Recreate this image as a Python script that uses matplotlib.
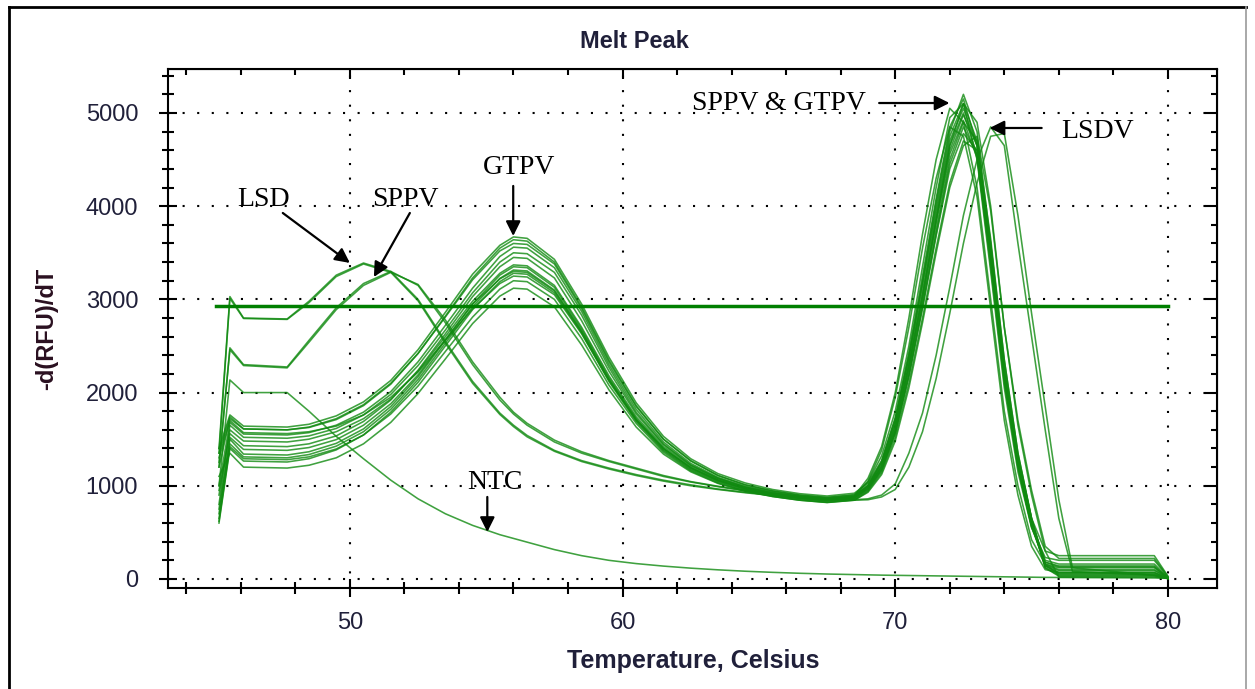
import matplotlib
matplotlib.use('Agg')
import matplotlib.pyplot as plt
from matplotlib.ticker import MultipleLocator
from matplotlib.lines import Line2D

plt.rcParams['font.family'] = ['Liberation Sans', 'DejaVu Sans']

# temperature steps (Celsius)
temps = [45.2, 45.6, 46.1, 47.7, 48.5, 49.5, 50.5, 51.5, 52.5, 53.5, 54.5, 55.5, 56.0, 56.5,
         57.5, 58.5, 59.5, 60.5, 61.5, 62.5, 63.5, 64.5, 65.5, 66.5, 67.5, 68.5,
         69.0, 69.5, 70.0, 70.5, 71.0, 71.5, 72.0, 72.5, 73.0, 73.5, 74.0, 74.5, 75.0, 75.5, 76.0, 76.5, 79.5, 80.0]

# -d(RFU)/dT, GTPV samples
gtpv_1 = [1400, 1760, 1640, 1630, 1660, 1750, 1900, 2130, 2460, 2860, 3270, 3580, 3670, 3655,
          3430, 2950, 2380, 1890, 1530, 1290, 1130, 1030, 960, 915, 890, 920,
          1030, 1270, 1720, 2400, 3200, 4050, 4800, 5200, 4800, 3600, 2250, 1300, 650, 300, 250, 250, 250, 30]
gtpv_2 = [1200, 1720, 1610, 1600, 1625, 1710, 1860, 2090, 2420, 2820, 3230, 3550, 3640, 3625,
          3400, 2920, 2350, 1860, 1500, 1270, 1110, 1010, 945, 900, 875, 905,
          1040, 1320, 1800, 2500, 3350, 4200, 4950, 5100, 4500, 3300, 2050, 1150, 550, 230, 200, 200, 200, 20]
gtpv_3 = [1000, 1680, 1555, 1545, 1570, 1650, 1790, 2010, 2330, 2720, 3120, 3460, 3560, 3550,
          3340, 2870, 2300, 1820, 1470, 1240, 1090, 995, 935, 890, 865, 890,
          1010, 1250, 1700, 2380, 3180, 4000, 4750, 5100, 4700, 3500, 2200, 1250, 600, 200, 160, 160, 160, 15]
gtpv_4 = [800, 1650, 1520, 1510, 1535, 1615, 1760, 1980, 2290, 2670, 3070, 3400, 3500, 3490,
          3290, 2830, 2270, 1790, 1450, 1225, 1080, 985, 925, 880, 855, 880,
          1000, 1240, 1680, 2350, 3150, 3950, 4700, 5050, 4650, 3450, 2150, 1220, 580, 180, 130, 130, 130, 10]
gtpv_5 = [900, 1600, 1480, 1470, 1500, 1580, 1720, 1930, 2230, 2600, 2980, 3280, 3370, 3360,
          3150, 2700, 2180, 1740, 1420, 1210, 1070, 980, 920, 880, 855, 880,
          990, 1220, 1650, 2300, 3050, 3850, 4600, 4980, 4650, 3500, 2200, 1260, 600, 150, 90, 90, 90, 10]
gtpv_6 = [700, 1500, 1340, 1330, 1365, 1455, 1610, 1850, 2170, 2560, 2950, 3260, 3350, 3340,
          3130, 2680, 2160, 1720, 1400, 1195, 1060, 970, 910, 870, 845, 870,
          970, 1180, 1580, 2200, 2950, 3750, 4500, 4900, 4700, 3650, 2350, 1350, 650, 150, 60, 60, 60, 10]
gtpv_7 = [650, 1450, 1310, 1300, 1335, 1425, 1580, 1820, 2140, 2530, 2920, 3225, 3315, 3305,
          3100, 2660, 2140, 1700, 1385, 1180, 1050, 960, 900, 860, 835, 860,
          960, 1170, 1570, 2180, 2920, 3700, 4450, 4850, 4550, 3450, 2200, 1250, 600, 120, 40, 40, 40, 5]
gtpv_8 = [600, 1400, 1265, 1255, 1290, 1385, 1545, 1790, 2110, 2500, 2890, 3190, 3280, 3270,
          3070, 2640, 2120, 1690, 1375, 1170, 1040, 950, 890, 850, 825, 850,
          950, 1160, 1560, 2170, 2900, 3680, 4400, 4780, 4600, 3550, 2300, 1320, 640, 120, 30, 30, 30, 5]
gtpv_9 = [1100, 1350, 1200, 1190, 1220, 1300, 1450, 1680, 1990, 2360, 2740, 3035, 3120, 3110,
          2920, 2510, 2030, 1630, 1340, 1150, 1025, 940, 885, 845, 820, 845,
          940, 1140, 1520, 2100, 2800, 3550, 4250, 4700, 4600, 3600, 2350, 1350, 650, 140, 50, 50, 50, 5]
gtpv_10 = [1300, 1700, 1570, 1560, 1580, 1640, 1760, 1950, 2220, 2560, 2900, 3170, 3250, 3240,
           3050, 2630, 2130, 1710, 1400, 1195, 1060, 970, 910, 870, 845, 870,
           980, 1210, 1640, 2300, 3080, 3900, 4650, 5000, 4550, 3350, 2100, 1200, 560, 160, 100, 100, 100, 10]
gtpv_11 = [950, 1560, 1430, 1420, 1450, 1535, 1690, 1920, 2240, 2630, 3030, 3350, 3450, 3440,
           3230, 2770, 2230, 1770, 1440, 1220, 1080, 985, 925, 885, 860, 890,
           1080, 1420, 2000, 2800, 3700, 4500, 5050, 4900, 4200, 3000, 1800, 1000, 420, 160, 120, 120, 120, 10]
gtpv_12 = [750, 1520, 1390, 1380, 1410, 1495, 1650, 1880, 2190, 2570, 2950, 3220, 3300, 3290,
           3090, 2650, 2140, 1710, 1400, 1190, 1055, 965, 905, 865, 840, 875,
           1050, 1380, 1950, 2700, 3550, 4300, 4850, 4750, 4100, 2900, 1700, 900, 350, 100, 70, 70, 70, 5]
gtpv_13 = [1350, 1740, 1610, 1600, 1630, 1720, 1870, 2100, 2420, 2810, 3210, 3520, 3600, 3590,
           3380, 2900, 2330, 1850, 1500, 1265, 1110, 1010, 945, 900, 875, 900,
           990, 1200, 1600, 2250, 3000, 3850, 4650, 5100, 4900, 4000, 2700, 1700, 950, 350, 220, 220, 220, 25]
gtpv_14 = [620, 1420, 1290, 1280, 1310, 1395, 1545, 1770, 2070, 2440, 2810, 3110, 3200, 3190,
           3000, 2580, 2080, 1670, 1360, 1160, 1030, 945, 885, 845, 822, 845,
           930, 1120, 1480, 2050, 2750, 3500, 4200, 4650, 4750, 3950, 2700, 1650, 900, 300, 20, 20, 20, 5]

# SPPV samples
sppv_1 = [1200, 2480, 2300, 2275, 2560, 2910, 3170, 3300, 3150, 2750, 2300, 1920, 1770, 1650,
          1470, 1350, 1260, 1180, 1100, 1040, 990, 945, 910, 880, 860, 870,
          970, 1190, 1610, 2260, 3020, 3820, 4560, 4920, 4520, 3420, 2160, 1240, 590, 140, 70, 70, 70, 5]
sppv_2 = [1250, 2460, 2290, 2265, 2540, 2890, 3150, 3290, 3160, 2780, 2330, 1950, 1790, 1670,
          1490, 1365, 1270, 1190, 1110, 1045, 995, 950, 912, 882, 862, 880,
          1000, 1260, 1730, 2430, 3250, 4080, 4850, 5150, 4650, 3450, 2150, 1200, 560, 180, 140, 140, 140, 10]

# LSD samples
lsd_1 = [1400, 3030, 2800, 2790, 2980, 3260, 3390, 3300, 3000, 2550, 2120, 1780, 1650, 1540,
         1380, 1270, 1190, 1120, 1060, 1010, 965, 930, 900, 875, 855, 850,
         860, 900, 1020, 1350, 1780, 2400, 3130, 3900, 4500, 4850, 4650, 3600, 2600, 1600, 650, 80, 40, 5]
lsd_2 = [1350, 3010, 2795, 2785, 2965, 3245, 3380, 3290, 2985, 2530, 2100, 1765, 1635, 1525,
         1370, 1260, 1180, 1110, 1050, 1000, 960, 925, 895, 870, 850, 845,
         850, 880, 960, 1200, 1580, 2150, 2850, 3600, 4250, 4750, 4780, 3900, 2850, 1850, 850, 120, 40, 5]

# no template control
ntc = [1000, 2135, 2000, 2000, 1800, 1530, 1290, 1060, 860, 700, 575, 475, 435, 395,
       315, 250, 200, 165, 138, 116, 98, 83, 71, 61, 53, 47,
       44, 41, 39, 37, 35, 33, 31, 29, 27, 25, 23, 21, 19, 17, 16, 15, 11, 9]

threshold = 2930
threshold_x = [45.1, 80.0]

curves = [gtpv_1, gtpv_2, gtpv_3, gtpv_4, gtpv_5, gtpv_6, gtpv_7, gtpv_8, gtpv_9, gtpv_10,
          gtpv_11, gtpv_12, gtpv_13, gtpv_14, sppv_1, sppv_2, lsd_1, lsd_2, ntc]

W, H = 1255, 689
fig = plt.figure(figsize=(W / 100, H / 100), dpi=100)
ax = fig.add_axes([168 / W, 1 - 588 / H, (1217 - 168) / W, (588 - 69) / H])

for c in curves:
    ax.plot(temps, c, color='#108a10', lw=1.15, alpha=0.8, zorder=3)
ax.plot(threshold_x, [threshold, threshold], color='#007f00', lw=2.5, zorder=4)

ax.set_xlim(43.33, 81.8)
ax.set_ylim(-97, 5472)

ax.xaxis.set_major_locator(MultipleLocator(10))
ax.xaxis.set_minor_locator(MultipleLocator(2))
ax.yaxis.set_major_locator(MultipleLocator(1000))
ax.yaxis.set_minor_locator(MultipleLocator(200))
ax.tick_params(which='major', direction='inout', length=13, width=1.5, labelsize=17,
               labelcolor='#20203a')
ax.tick_params(which='minor', direction='inout', length=8, width=1.5)
ax.tick_params(axis='x', which='major', pad=11)
ax.tick_params(axis='y', which='major', pad=15)
ax.grid(True, which='major', color='k', linestyle=(0, (1, 6)), linewidth=1.5)
for s in ax.spines.values():
    s.set_linewidth(1.5)

# inward ticks on top and right
top = ax.secondary_xaxis('top')
top.xaxis.set_major_locator(MultipleLocator(10))
top.xaxis.set_minor_locator(MultipleLocator(2))
top.tick_params(which='major', direction='in', length=7, width=1.5, labeltop=False)
top.tick_params(which='minor', direction='in', length=4, width=1.5)
right = ax.secondary_yaxis('right')
right.yaxis.set_major_locator(MultipleLocator(1000))
right.yaxis.set_minor_locator(MultipleLocator(200))
right.tick_params(which='major', direction='in', length=9, width=1.5, labelright=False)
right.tick_params(which='minor', direction='in', length=4, width=1.5)

fig.text(634 / W, 1 - 42 / H, 'Melt Peak', ha='center', va='center', fontsize=17,
         fontweight='bold', color='#20203a')
fig.text(693 / W, 1 - 661 / H, 'Temperature, Celsius', ha='center', va='center', fontsize=18,
         fontweight='bold', color='#20203a')
fig.text(47 / W, 1 - 329 / H, '-d(RFU)/dT', ha='center', va='center', fontsize=17,
         fontweight='bold', rotation=90, color='#2a1020')

# labels with arrows
serif = ['Liberation Serif', 'DejaVu Serif']
arrow = dict(arrowstyle='-|>', mutation_scale=22, lw=1.6, color='k', shrinkA=0, shrinkB=0)
notes = [
    ('LSD', (46.84, 4067), (47.54, 3927), (50.0, 3391)),
    ('SPPV', (52.02, 4067), (52.2, 3927), (50.88, 3240)),
    ('GTPV', (56.2, 4410), (55.99, 4217), (55.99, 3680)),
    ('SPPV & GTPV', (65.74, 5107), (69.41, 5107), (71.99, 5107)),
    ('LSDV', (77.43, 4796), (75.37, 4839), (73.46, 4839)),
    ('NTC', (55.33, 1030), (55.04, 880), (55.04, 504)),
]
for label, pos, tail, tip in notes:
    ax.text(pos[0], pos[1], label, ha='center', va='center', fontsize=20, family=serif,
            color='k', zorder=6)
    ax.annotate('', xy=tip, xytext=tail, arrowprops=arrow, zorder=6)

# outer frame
fig.add_artist(Line2D([9 / W, 9 / W], [0, 1 - 7 / H], transform=fig.transFigure, color='k', lw=2))
fig.add_artist(Line2D([9 / W, 1246 / W], [1 - 7 / H, 1 - 7 / H], transform=fig.transFigure,
                      color='k', lw=2))
fig.add_artist(Line2D([1246 / W, 1246 / W], [0, 1 - 7 / H], transform=fig.transFigure,
                      color='#999999', lw=1.2))

fig.savefig('out.png', dpi=100)
